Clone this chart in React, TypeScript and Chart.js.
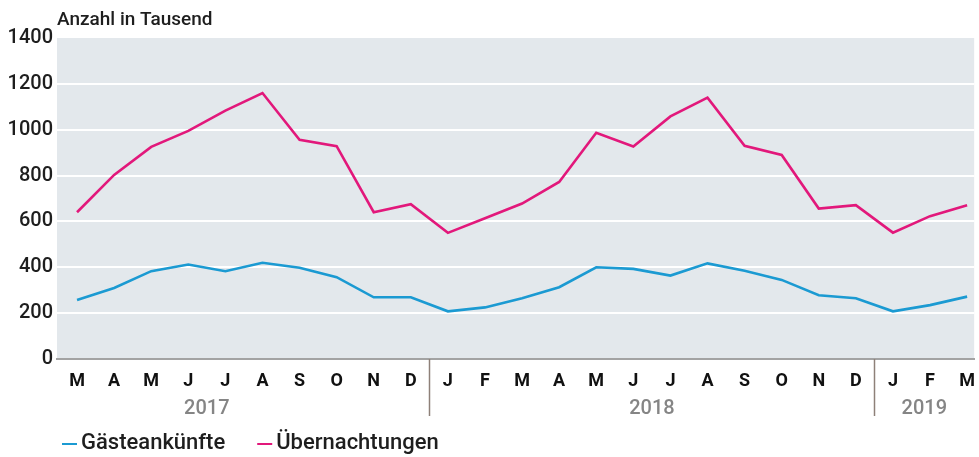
import { useEffect, useRef } from "react";
import { Chart, registerables } from "chart.js";

Chart.register(...registerables);

const months = ["M", "A", "M", "J", "J", "A", "S", "O", "N", "D", "J", "F", "M", "A", "M", "J", "J", "A", "S", "O", "N", "D", "J", "F", "M"];
const years = ["2017", "2018", "2019"];
const yearStartIndex = [-2, 10, 22];
const arrivals = [257, 310, 383, 412, 383, 420, 398, 357, 269, 269, 208, 225, 265, 313, 400, 393, 364, 417, 385, 345, 278, 265, 208, 235, 272];
const overnights = [640, 803, 925, 995, 1083, 1160, 956, 928, 640, 675, 550, 614, 678, 772, 987, 927, 1058, 1140, 930, 890, 656, 671, 551, 623, 671];
const seriesLabels = ["Gästeankünfte", "Übernachtungen"];
const seriesColors = ["#1b9ad2", "#e2187b"];
const unitLabel = "Anzahl in Tausend";

const FONT = "Roboto, 'Noto Sans', sans-serif";

const decorPlugin = {
  id: "decor",
  beforeDraw(chart: any) {
    const { ctx, chartArea } = chart;
    ctx.save();
    ctx.fillStyle = "#e3e8ec";
    ctx.fillRect(chartArea.left, chartArea.top, chartArea.right - chartArea.left, chartArea.bottom - chartArea.top);
    ctx.restore();
  },
  afterDraw(chart: any) {
    const { ctx, chartArea } = chart;
    const xs = chart.scales.x;
    ctx.save();
    yearStartIndex.forEach((start, i) => {
      const left = xs.getPixelForValue(start - 0.5);
      const right = Math.min(xs.getPixelForValue(start + 11.5), chartArea.right);
      if (i > 0) {
        ctx.strokeStyle = "#8e8078";
        ctx.lineWidth = 1.5;
        ctx.beginPath();
        ctx.moveTo(Math.round(left) + 0.5, chartArea.bottom);
        ctx.lineTo(Math.round(left) + 0.5, chartArea.bottom + 57);
        ctx.stroke();
      }
      ctx.fillStyle = "#858585";
      ctx.font = `500 20px ${FONT}`;
      ctx.textAlign = "center";
      ctx.textBaseline = "middle";
      ctx.fillText(years[i], (left + right) / 2, chartArea.bottom + 50);
    });
    ctx.fillStyle = "#1e1e1e";
    ctx.font = `500 19px ${FONT}`;
    ctx.textAlign = "left";
    ctx.textBaseline = "middle";
    ctx.fillText(unitLabel, 57, 20);
    let x = 62;
    const y = 443;
    ctx.font = `500 22px ${FONT}`;
    seriesLabels.forEach((label, i) => {
      ctx.strokeStyle = seriesColors[i];
      ctx.lineWidth = 2;
      ctx.beginPath();
      ctx.moveTo(x, y + 1);
      ctx.lineTo(x + 15, y + 1);
      ctx.stroke();
      ctx.fillStyle = "#1e1e1e";
      ctx.fillText(label, x + 19, y);
      x += 19 + ctx.measureText(label).width + 32;
    });
    ctx.restore();
  },
};

export default function App() {
  const ref = useRef<HTMLCanvasElement>(null);
  useEffect(() => {
    if (!ref.current) return;
    const chart = new Chart(ref.current, {
      type: "line",
      data: {
        datasets: [
          {
            label: seriesLabels[0],
            data: arrivals.map((v, i) => ({ x: i, y: v })),
            borderColor: seriesColors[0],
            borderWidth: 2.6,
            pointRadius: 0,
            tension: 0,
          },
          {
            label: seriesLabels[1],
            data: overnights.map((v, i) => ({ x: i, y: v })),
            borderColor: seriesColors[1],
            borderWidth: 2.6,
            pointRadius: 0,
            tension: 0,
          },
        ],
      },
      options: {
        animation: false,
        responsive: false,
        layout: { padding: { top: 38, left: 0, right: 0, bottom: 0 } },
        plugins: { legend: { display: false }, tooltip: { enabled: false } },
        scales: {
          x: {
            type: "linear",
            min: -0.54,
            max: 24.19,
            afterBuildTicks: (s: any) => {
              s.ticks = months.map((_, i) => ({ value: i }));
            },
            afterFit: (s: any) => {
              s.height = 98;
            },
            grid: { display: false },
            border: { display: true, color: "#a3a3a3", width: 2 },
            ticks: {
              autoSkip: false,
              maxRotation: 0,
              padding: 4,
              color: "#111",
              font: { family: FONT, size: 18, weight: "bold" },
              callback: (v: any) => months[v as number] ?? "",
            },
          },
          y: {
            min: 0,
            max: 1400,
            afterFit: (s: any) => {
              s.width = 57;
            },
            grid: {
              color: (c: any) => (c.tick && (c.tick.value === 0 || c.tick.value === 1400) ? "rgba(0,0,0,0)" : "#ffffff"),
              lineWidth: 2,
              drawTicks: false,
            },
            border: { display: false },
            ticks: {
              stepSize: 200,
              padding: 4,
              color: "#1e1e1e",
              font: { family: FONT, size: 20, weight: "500" },
              callback: (v: any) => String(v),
            },
          },
        },
      },
      plugins: [decorPlugin],
    });
    return () => chart.destroy();
  }, []);
  return (
    <div style={{ position: "absolute", left: 0, top: 0, width: 979, height: 457 }}>
      <canvas ref={ref} width={979} height={457} />
    </div>
  );
}
